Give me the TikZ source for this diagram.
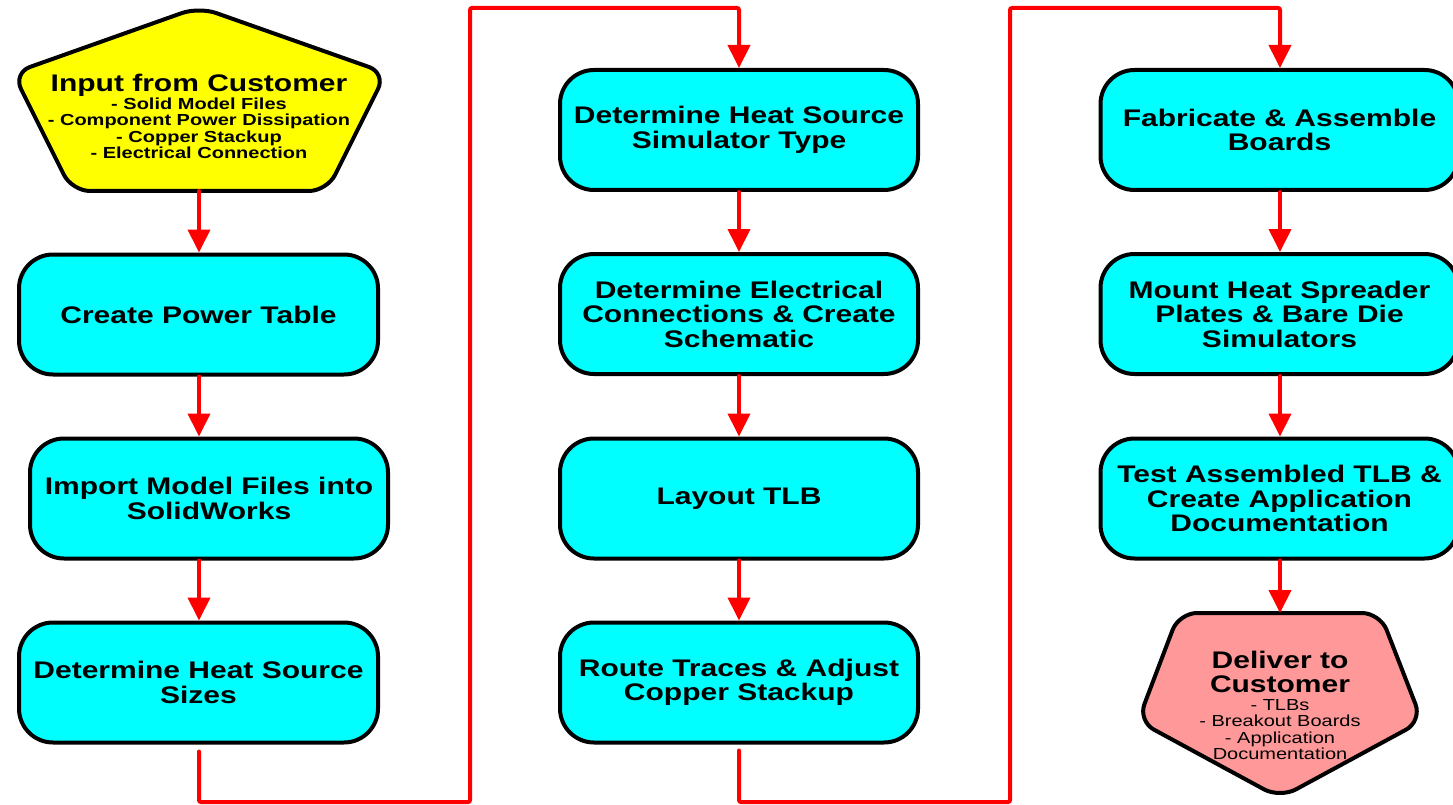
\documentclass[tikz,border=0pt]{standalone}
\usepackage{fontspec}
\setmainfont{Liberation Sans}[FakeStretch=1.25]
\usetikzlibrary{arrows.meta}
\definecolor{boxcyan}{RGB}{0,255,255}
\definecolor{inyellow}{RGB}{255,255,0}
\definecolor{outpink}{RGB}{255,153,153}
\definecolor{connred}{RGB}{255,0,0}
\tikzset{
  stepbox/.style={draw=black, line width=4pt, fill=boxcyan, rounded corners=34pt,
    minimum height=120pt, align=center,
    font=\fontsize{24}{24.5}\selectfont\bfseries},
  pentshape/.style={draw=black, line width=4pt, rounded corners=18pt, line join=round},
  conn/.style={draw=connred, line width=4pt, line cap=round,
    -{Triangle[width=22pt,length=23pt]}},
}
\begin{document}
\begin{tikzpicture}[x=1pt,y=-1pt]
\useasboundingbox (0,0) rectangle (1453,805);
\fill[white] (0,0) rectangle (1453,805);
% input pentagon
\draw[pentshape, fill=inyellow] (199,191) -- (327,191) -- (386,73) -- (199,7) -- (13,73) -- (72,191) -- cycle;
\coordinate (inbot) at (199,191);
\node[align=center, font=\fontsize{16}{16.5}\selectfont\bfseries] (intext) at (199,116.5)
  {{\fontsize{24}{24}\selectfont Input from Customer}\\[0.5pt]
   - Solid Model Files\\ - Component Power Dissipation\\ - Copper Stackup\\ - Electrical Connection};
% column 1
\node[stepbox, minimum width=359pt] (power) at (198.5,314.5) {Create Power Table};
\node[stepbox, minimum width=358pt] (import) at (209,498.5) {Import Model Files into\\SolidWorks};
\node[stepbox, minimum width=359pt] (sizes) at (198.5,682.5) {Determine Heat Source\\Sizes};
% column 2
\node[stepbox, minimum width=358pt] (simtype) at (739,130) {Determine Heat Source\\Simulator Type};
\node[stepbox, minimum width=358pt] (elec) at (739,314) {Determine Electrical\\Connections \& Create\\Schematic};
\node[stepbox, minimum width=358pt] (layout) at (739,498.5) {Layout TLB};
\node[stepbox, minimum width=358pt] (route) at (739,682.5) {Route Traces \& Adjust\\Copper Stackup};
% column 3
\node[stepbox, minimum width=358pt] (fab) at (1279.5,130) {Fabricate \& Assemble\\Boards};
\node[stepbox, minimum width=358pt] (mount) at (1279.5,314) {Mount Heat Spreader\\Plates \& Bare Die\\Simulators};
\node[stepbox, minimum width=358pt] (test) at (1279.5,498.5) {Test Assembled TLB \&\\Create Application\\Documentation};
% deliver pentagon
\draw[pentshape, fill=outpink] (1280,613) -- (1380,613) -- (1422,721) -- (1280,798) -- (1138,721) -- (1179,613) -- cycle;
\coordinate (deltop) at (1280,613);
\node[align=center, font=\fontsize{16}{16.5}\selectfont] (deltext) at (1280,705.5)
  {{\fontsize{24}{24}\selectfont\bfseries Deliver to}\\[5.5pt]
   {\fontsize{24}{24}\selectfont\bfseries Customer}\\[1.5pt]
   - TLBs\\ - Breakout Boards\\ - Application\\ Documentation};
% connector end points
\coordinate (b1) at (199,802);
\coordinate (t1) at (470,8);
\coordinate (b2) at (739,802);
\coordinate (t2) at (1010,8);
% column 1
\draw[conn] (inbot) -- (inbot |- power.north);
\draw[conn] (inbot |- power.south) -- (inbot |- import.north);
\draw[conn] (inbot |- import.south) -- (inbot |- sizes.north);
\draw[conn, rounded corners=2pt] ([yshift=-7pt]inbot |- sizes.south) -- (b1) -| (t1) -| (simtype.north);
% column 2
\draw[conn] (simtype.south) -- (elec.north);
\draw[conn] (elec.south) -- (layout.north);
\draw[conn] (layout.south) -- (route.north);
\draw[conn, rounded corners=2pt] ([yshift=-6pt]route.south) -- (b2) -| (t2) -| (deltop |- fab.north);
% column 3
\draw[conn] (deltop |- fab.south) -- (deltop |- mount.north);
\draw[conn] (deltop |- mount.south) -- (deltop |- test.north);
\draw[conn] (deltop |- test.south) -- (deltop);
\end{tikzpicture}
\end{document}
